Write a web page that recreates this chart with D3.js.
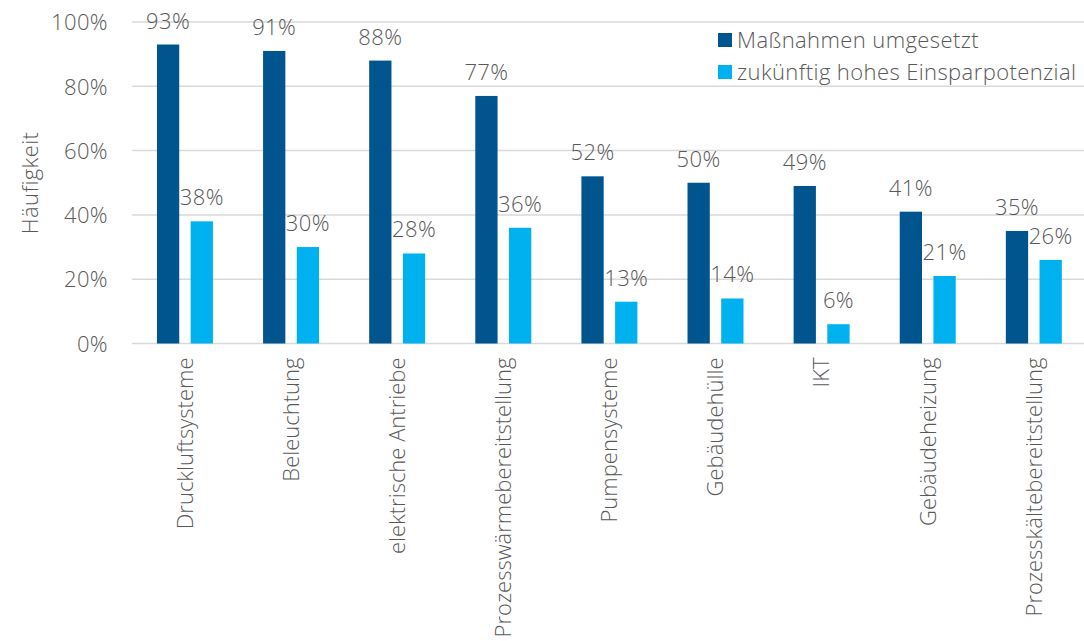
<!DOCTYPE html>
<html><head><meta charset="utf-8">
<script src="https://cdn.jsdelivr.net/npm/d3@7"></script>
<style>
body{margin:0;background:#fff;}
text{font-family:"Open Sans",sans-serif;fill:#595959;font-weight:300;letter-spacing:0.4px;}
</style></head>
<body><svg id="c" width="1084" height="641"></svg>
<script>
const categories = ["Druckluftsysteme","Beleuchtung","elektrische Antriebe","Prozesswärmebereitstellung","Pumpensysteme","Gebäudehülle","IKT","Gebäudeheizung","Prozesskältebereitstellung"];
const seriesNames = ["Maßnahmen umgesetzt","zukünftig hohes Einsparpotenzial"];
const umgesetzt = [93,91,88,77,52,50,49,41,35];
const potenzial = [38,30,28,36,13,14,6,21,26];
const yTicks = [0,20,40,60,80,100];
const colors = ["#00558f","#00b1ef"];

const svg = d3.select("#c");
const x = d3.scaleBand().domain(categories).range([132,1087]).paddingInner(0).paddingOuter(0);
const y = d3.scaleLinear().domain([0,100]).range([343.5,22]);
const fs = "22px";

svg.append("g").selectAll("line").data(yTicks).join("line")
  .attr("x1",132).attr("x2",1084)
  .attr("y1",d=>y(d)).attr("y2",d=>y(d))
  .attr("stroke","#d9d9d9").attr("stroke-width",1.5);

function styleText(sel, ls){
  sel.style("font-size",fs).style("font-family","'Open Sans',sans-serif").style("font-weight",300)
     .style("letter-spacing",ls).attr("fill","#595959");
}

const yAxis = d3.axisLeft(y).tickValues(yTicks).tickFormat(d=>d+"%").tickSize(0).tickPadding(0);
const ya = svg.append("g").attr("transform","translate(108,0)").call(yAxis);
ya.select(".domain").remove();
ya.selectAll("text").call(styleText,"0.4px").attr("dy","0.35em");

svg.append("text").attr("transform","translate(38,183) rotate(-90)")
  .attr("text-anchor","middle").style("font-size",fs).text("Häufigkeit");

const bw = x.step()*0.21;
const off = [-28.1, 5.6];
const series = [umgesetzt, potenzial];
series.forEach((vals,si)=>{
  const g = svg.append("g");
  g.selectAll("rect").data(vals).join("rect")
    .attr("x",(d,i)=>x(categories[i])+x.bandwidth()/2+off[si])
    .attr("width",bw)
    .attr("y",d=>y(d)).attr("height",d=>y(0)-y(d))
    .attr("fill",colors[si]);
  g.selectAll("text").data(vals).join("text")
    .attr("x",(d,i)=>x(categories[i])+x.bandwidth()/2+off[si]+bw/2)
    .attr("y",d=>y(d)-16)
    .attr("text-anchor","middle").style("font-size",fs)
    .text(d=>d+"%");
});

const xAxis = d3.axisBottom(x).tickSize(0).tickPadding(0);
const xa = svg.append("g").attr("transform","translate(0,343.5)").call(xAxis);
xa.select(".domain").remove();
xa.selectAll("text").call(styleText,"0px")
  .attr("text-anchor","end").attr("transform","rotate(-90)")
  .attr("x",-14).attr("y",0).attr("dy","0.35em");

const lg = svg.append("g");
lg.append("rect").attr("x",712).attr("y",24).attr("width",370).attr("height",60).attr("fill","#fff");
seriesNames.forEach((n,i)=>{
  lg.append("rect").attr("x",718).attr("y",33+i*32).attr("width",14).attr("height",14).attr("fill",colors[i]);
  lg.append("text").attr("x",737).attr("y",40+i*32).attr("dy","0.35em").style("font-size",fs).text(n);
});
</script></body></html>
